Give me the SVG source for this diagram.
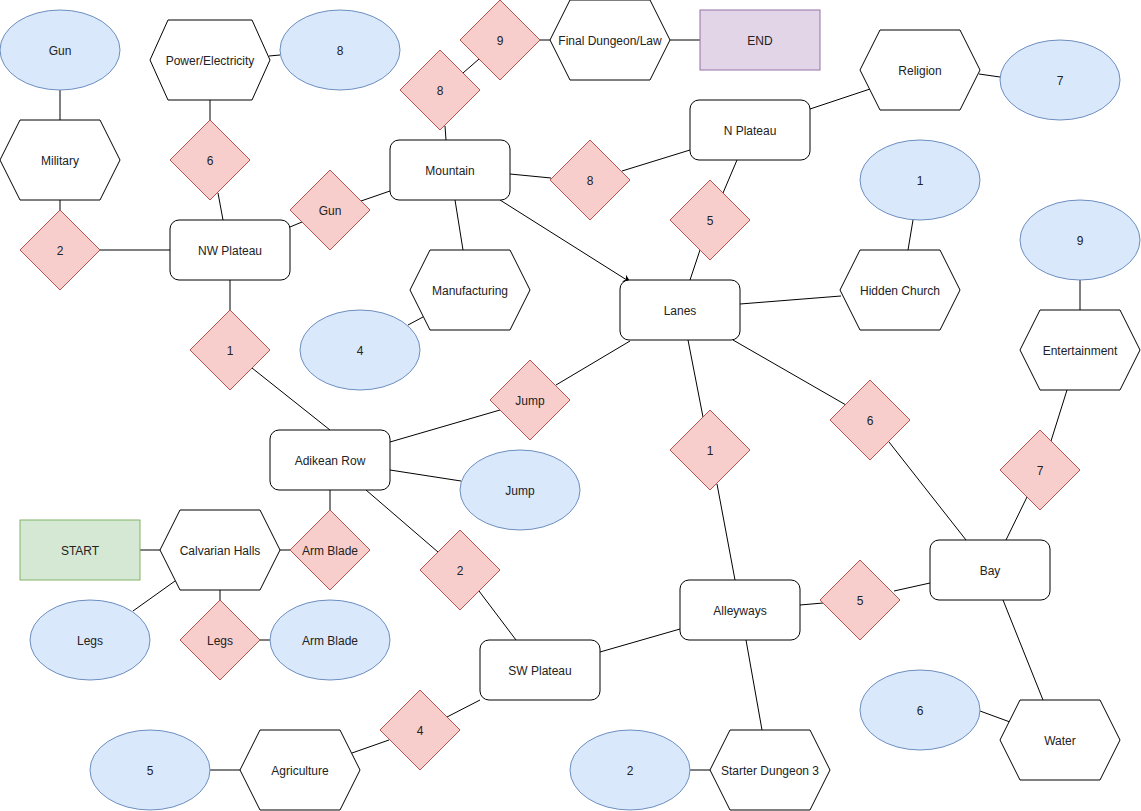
<svg xmlns="http://www.w3.org/2000/svg" width="1141" height="811" viewBox="0 0 1141 811">
<style>
.ell{fill:#dae8fc;stroke:#6c8ebf;stroke-width:1}
.hex{fill:#ffffff;stroke:#000000;stroke-width:1}
.rr{fill:#ffffff;stroke:#000000;stroke-width:1}
.dia{fill:#f8cecc;stroke:#b85450;stroke-width:1}
.start{fill:#d5e8d4;stroke:#82b366;stroke-width:1}
.end{fill:#e1d5e7;stroke:#9673a6;stroke-width:1}
.ln{stroke:#000000;stroke-width:1;fill:none}
text{font-family:"Liberation Sans",Arial,Helvetica,sans-serif;font-size:12px;fill:#222222;text-anchor:middle;dominant-baseline:central;transform:translateY(1px)}
</style>
<defs>
<marker id="arr" viewBox="0 0 10 10" refX="9" refY="5" markerWidth="8" markerHeight="8" markerUnits="userSpaceOnUse" orient="auto">
<path d="M0,0 L10,5 L0,10 L3,5 Z" fill="#000"/>
</marker>
</defs>
<rect width="1141" height="811" fill="#ffffff"/>
<g id="connectors">
<line class="ln" x1="60" y1="90" x2="60" y2="120"/>
<line class="ln" x1="60" y1="200" x2="60" y2="210"/>
<line class="ln" x1="100" y1="250" x2="170" y2="250"/>
<line class="ln" x1="210" y1="100" x2="210" y2="120"/>
<line class="ln" x1="218" y1="193" x2="223" y2="220"/>
<line class="ln" x1="269" y1="56" x2="280" y2="55"/>
<line class="ln" x1="290" y1="227" x2="302" y2="222"/>
<line class="ln" x1="361" y1="201" x2="390" y2="191"/>
<line class="ln" x1="446" y1="140" x2="445" y2="126"/>
<line class="ln" x1="463" y1="73" x2="479" y2="59"/>
<line class="ln" x1="540" y1="40" x2="550" y2="40"/>
<line class="ln" x1="670" y1="40" x2="700" y2="40"/>
<line class="ln" x1="510" y1="174" x2="551" y2="178"/>
<line class="ln" x1="622" y1="171" x2="690" y2="150"/>
<line class="ln" x1="810" y1="109" x2="870" y2="89"/>
<line class="ln" x1="979" y1="74" x2="1000" y2="77"/>
<line class="ln" x1="737" y1="160" x2="723" y2="193"/>
<line class="ln" x1="700" y1="250" x2="690" y2="280"/>
<line class="ln" x1="500" y1="200" x2="630" y2="282" marker-end="url(#arr)"/>
<line class="ln" x1="455" y1="200" x2="463" y2="250"/>
<line class="ln" x1="423" y1="317" x2="408" y2="325"/>
<line class="ln" x1="908" y1="250" x2="913" y2="220"/>
<line class="ln" x1="740" y1="304" x2="841" y2="296"/>
<line class="ln" x1="1080" y1="280" x2="1080" y2="310"/>
<line class="ln" x1="1067" y1="390" x2="1051" y2="441"/>
<line class="ln" x1="1027" y1="497" x2="1006" y2="540"/>
<line class="ln" x1="733" y1="340" x2="846" y2="405"/>
<line class="ln" x1="889" y1="442" x2="966" y2="540"/>
<line class="ln" x1="688" y1="340" x2="703" y2="417"/>
<line class="ln" x1="717" y1="484" x2="735" y2="580"/>
<line class="ln" x1="230" y1="280" x2="230" y2="310"/>
<line class="ln" x1="252" y1="368" x2="330" y2="430"/>
<line class="ln" x1="390" y1="442" x2="500" y2="410"/>
<line class="ln" x1="556" y1="385" x2="630" y2="341"/>
<line class="ln" x1="390" y1="470" x2="461" y2="481"/>
<line class="ln" x1="330" y1="490" x2="330" y2="510"/>
<line class="ln" x1="366" y1="490" x2="438" y2="552"/>
<line class="ln" x1="479" y1="591" x2="516" y2="640"/>
<line class="ln" x1="600" y1="652" x2="680" y2="629"/>
<line class="ln" x1="800" y1="605" x2="823" y2="603"/>
<line class="ln" x1="894" y1="591" x2="930" y2="583"/>
<line class="ln" x1="746" y1="640" x2="762" y2="730"/>
<line class="ln" x1="690" y1="770" x2="710" y2="770"/>
<line class="ln" x1="1003" y1="600" x2="1043" y2="700"/>
<line class="ln" x1="980" y1="711" x2="1010" y2="722"/>
<line class="ln" x1="140" y1="550" x2="160" y2="550"/>
<line class="ln" x1="280" y1="550" x2="290" y2="550"/>
<line class="ln" x1="220" y1="590" x2="220" y2="600"/>
<line class="ln" x1="260" y1="640" x2="270" y2="640"/>
<line class="ln" x1="175" y1="581" x2="133" y2="611"/>
<line class="ln" x1="480" y1="700" x2="447" y2="717"/>
<line class="ln" x1="389" y1="740" x2="352" y2="753"/>
<line class="ln" x1="210" y1="770" x2="240" y2="770"/>
</g>
<g id="ell-gun"><ellipse class="ell" cx="60" cy="50" rx="60" ry="40"/><text x="60" y="50">Gun</text></g>
<g id="ell-8"><ellipse class="ell" cx="340" cy="50" rx="60" ry="40"/><text x="340" y="50">8</text></g>
<g id="ell-7"><ellipse class="ell" cx="1060" cy="80" rx="60" ry="40"/><text x="1060" y="80">7</text></g>
<g id="ell-1"><ellipse class="ell" cx="920" cy="180" rx="60" ry="40"/><text x="920" y="180">1</text></g>
<g id="ell-9"><ellipse class="ell" cx="1080" cy="240" rx="60" ry="40"/><text x="1080" y="240">9</text></g>
<g id="ell-4"><ellipse class="ell" cx="360" cy="350" rx="60" ry="40"/><text x="360" y="350">4</text></g>
<g id="ell-jump"><ellipse class="ell" cx="520" cy="490" rx="60" ry="40"/><text x="520" y="490">Jump</text></g>
<g id="ell-legs"><ellipse class="ell" cx="90" cy="640" rx="60" ry="40"/><text x="90" y="640">Legs</text></g>
<g id="ell-armblade"><ellipse class="ell" cx="330" cy="640" rx="60" ry="40"/><text x="330" y="640">Arm Blade</text></g>
<g id="ell-6"><ellipse class="ell" cx="920" cy="710" rx="60" ry="40"/><text x="920" y="710">6</text></g>
<g id="ell-5"><ellipse class="ell" cx="150" cy="770" rx="60" ry="40"/><text x="150" y="770">5</text></g>
<g id="ell-2"><ellipse class="ell" cx="630" cy="770" rx="60" ry="40"/><text x="630" y="770">2</text></g>
<g id="hex-military"><polygon class="hex" points="20,120 100,120 120,160 100,200 20,200 0,160"/><text x="60" y="160">Military</text></g>
<g id="hex-power"><polygon class="hex" points="168,20 252,20 270,60 252,100 168,100 150,60"/><text x="210" y="60">Power/Electricity</text></g>
<g id="hex-final"><polygon class="hex" points="570,0 650,0 670,40 650,80 570,80 550,40"/><text x="610" y="40">Final Dungeon/Law</text></g>
<g id="hex-religion"><polygon class="hex" points="880,30 960,30 980,70 960,110 880,110 860,70"/><text x="920" y="70">Religion</text></g>
<g id="hex-hidden"><polygon class="hex" points="860,250 940,250 960,290 940,330 860,330 840,290"/><text x="900" y="290">Hidden Church</text></g>
<g id="hex-manufacturing"><polygon class="hex" points="430,250 510,250 530,290 510,330 430,330 410,290"/><text x="470" y="290">Manufacturing</text></g>
<g id="hex-entertainment"><polygon class="hex" points="1040,310 1120,310 1140,350 1120,390 1040,390 1020,350"/><text x="1080" y="350">Entertainment</text></g>
<g id="hex-calvarian"><polygon class="hex" points="180,510 260,510 280,550 260,590 180,590 160,550"/><text x="220" y="550">Calvarian Halls</text></g>
<g id="hex-agriculture"><polygon class="hex" points="260,730 340,730 360,770 340,810 260,810 240,770"/><text x="300" y="770">Agriculture</text></g>
<g id="hex-starter"><polygon class="hex" points="730,730 810,730 830,770 810,810 730,810 710,770"/><text x="770" y="770">Starter Dungeon 3</text></g>
<g id="hex-water"><polygon class="hex" points="1020,700 1100,700 1120,740 1100,780 1020,780 1000,740"/><text x="1060" y="740">Water</text></g>
<g id="nw-plateau"><rect class="rr" x="170" y="220" width="120" height="60" rx="9"/><text x="230" y="250">NW Plateau</text></g>
<g id="mountain"><rect class="rr" x="390" y="140" width="120" height="60" rx="9"/><text x="450" y="170">Mountain</text></g>
<g id="n-plateau"><rect class="rr" x="690" y="100" width="120" height="60" rx="9"/><text x="750" y="130">N Plateau</text></g>
<g id="lanes"><rect class="rr" x="620" y="280" width="120" height="60" rx="9"/><text x="680" y="310">Lanes</text></g>
<g id="adikean"><rect class="rr" x="270" y="430" width="120" height="60" rx="9"/><text x="330" y="460">Adikean Row</text></g>
<g id="alleyways"><rect class="rr" x="680" y="580" width="120" height="60" rx="9"/><text x="740" y="610">Alleyways</text></g>
<g id="bay"><rect class="rr" x="930" y="540" width="120" height="60" rx="9"/><text x="990" y="570">Bay</text></g>
<g id="sw-plateau"><rect class="rr" x="480" y="640" width="120" height="60" rx="9"/><text x="540" y="670">SW Plateau</text></g>
<g id="start"><rect class="start" x="20" y="520" width="120" height="60"/><text x="80" y="550">START</text></g>
<g id="end"><rect class="end" x="700" y="10" width="120" height="60"/><text x="760" y="40">END</text></g>
<g id="d-9"><polygon class="dia" points="500,0 540,40 500,80 460,40"/><text x="500" y="40">9</text></g>
<g id="d-8a"><polygon class="dia" points="440,50 480,90 440,130 400,90"/><text x="440" y="90">8</text></g>
<g id="d-6a"><polygon class="dia" points="210,120 250,160 210,200 170,160"/><text x="210" y="160">6</text></g>
<g id="d-gun"><polygon class="dia" points="330,170 370,210 330,250 290,210"/><text x="330" y="210">Gun</text></g>
<g id="d-8b"><polygon class="dia" points="590,140 630,180 590,220 550,180"/><text x="590" y="180">8</text></g>
<g id="d-5a"><polygon class="dia" points="710,180 750,220 710,260 670,220"/><text x="710" y="220">5</text></g>
<g id="d-2a"><polygon class="dia" points="60,210 100,250 60,290 20,250"/><text x="60" y="250">2</text></g>
<g id="d-1a"><polygon class="dia" points="230,310 270,350 230,390 190,350"/><text x="230" y="350">1</text></g>
<g id="d-jump"><polygon class="dia" points="530,360 570,400 530,440 490,400"/><text x="530" y="400">Jump</text></g>
<g id="d-1b"><polygon class="dia" points="710,410 750,450 710,490 670,450"/><text x="710" y="450">1</text></g>
<g id="d-6b"><polygon class="dia" points="870,380 910,420 870,460 830,420"/><text x="870" y="420">6</text></g>
<g id="d-7"><polygon class="dia" points="1040,430 1080,470 1040,510 1000,470"/><text x="1040" y="470">7</text></g>
<g id="d-armblade"><polygon class="dia" points="330,510 370,550 330,590 290,550"/><text x="330" y="550">Arm Blade</text></g>
<g id="d-2b"><polygon class="dia" points="460,530 500,570 460,610 420,570"/><text x="460" y="570">2</text></g>
<g id="d-legs"><polygon class="dia" points="220,600 260,640 220,680 180,640"/><text x="220" y="640">Legs</text></g>
<g id="d-5b"><polygon class="dia" points="860,560 900,600 860,640 820,600"/><text x="860" y="600">5</text></g>
<g id="d-4"><polygon class="dia" points="420,690 460,730 420,770 380,730"/><text x="420" y="730">4</text></g>
</svg>
